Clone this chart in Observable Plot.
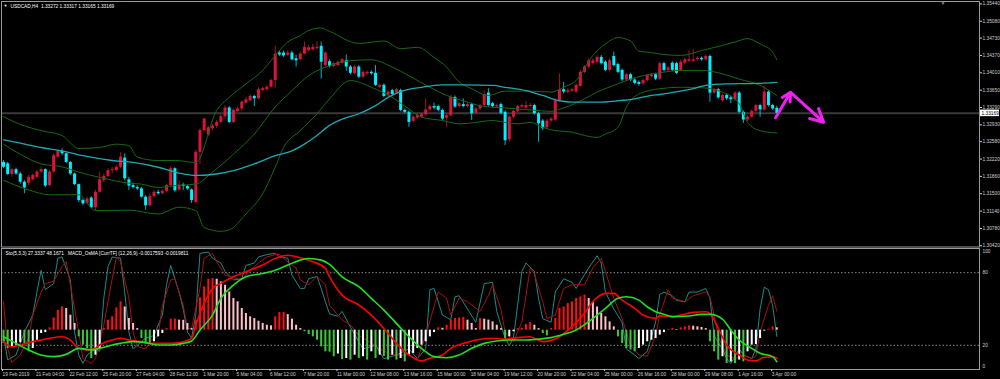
<!DOCTYPE html>
<html><head><meta charset="utf-8">
<script src="https://cdn.jsdelivr.net/npm/d3@7"></script>
<script src="https://cdn.jsdelivr.net/npm/@observablehq/plot@0.6"></script>
<style>
html,body{margin:0;padding:0;background:#000;}
#wrap{position:relative;width:1000px;height:379px;background:#000;overflow:hidden;}
#wrap svg{position:absolute;left:0;}
</style></head><body><div id="wrap"></div>
<script>
// ---------- DATA ----------
const symbolTitle = "USDCAD,H4  1.33272 1.33317 1.33165 1.33169";
const indicatorTitle = "Sto(5,3,3) 27.3337 48.1671   MACD_OsMA [CurrTF] (12,26,9) -0.0017593 -0.0019811";
const timeLabels = ["19 Feb 2019","21 Feb 04:00","22 Feb 12:00","25 Feb 20:00","27 Feb 04:00","28 Feb 12:00","1 Mar 20:00","5 Mar 04:00","6 Mar 12:00","7 Mar 20:00","11 Mar 00:00","12 Mar 08:00","13 Mar 16:00","15 Mar 00:00","18 Mar 04:00","19 Mar 12:00","20 Mar 20:00","22 Mar 04:00","25 Mar 00:00","26 Mar 16:00","28 Mar 00:00","29 Mar 08:00","1 Apr 16:00","3 Apr 00:00"];
const timeLabelBars = [0,8,16,24,32,40,48,56,64,72,80,88,96,104,112,120,128,136,144,152,160,168,176,184];
const priceTicks = [1.3042,1.3078,1.3114,1.3150,1.3186,1.3222,1.3258,1.3293,1.3329,1.3365,1.3401,1.3437,1.3473,1.3508,1.3544];
const oscTicks = [0,20,80,100];
const oscLevels = [20,80];

const open = [
1.3215,1.3212,1.3190,1.3200,1.3191,1.3174,1.3172,1.3179,1.3184,1.3195,
1.3200,1.3167,1.3195,1.3226,1.3238,1.3233,1.3215,1.3191,1.3169,1.3136,
1.3130,1.3141,1.3121,1.3153,1.3177,1.3186,1.3198,1.3198,1.3205,1.3224,
1.3179,1.3167,1.3163,1.3160,1.3143,1.3125,1.3144,1.3153,1.3150,1.3155,
1.3167,1.3202,1.3158,1.3168,1.3165,1.3158,1.3132,1.3236,1.3281,1.3272,
1.3285,1.3290,1.3298,1.3310,1.3328,1.3298,1.3321,1.3326,1.3338,1.3343,
1.3352,1.3347,1.3364,1.3366,1.3371,1.3385,1.3442,1.3442,1.3437,1.3442,
1.3430,1.3428,1.3440,1.3447,1.3449,1.3451,1.3456,1.3416,1.3424,1.3414,
1.3416,1.3421,1.3426,1.3413,1.3399,1.3413,1.3392,1.3399,1.3402,1.3400,
1.3371,1.3375,1.3354,1.3364,1.3359,1.3364,1.3323,1.3319,1.3300,1.3307,
1.3309,1.3314,1.3324,1.3331,1.3331,1.3323,1.3307,1.3312,1.3350,1.3331,
1.3335,1.3331,1.3335,1.3317,1.3326,1.3333,1.3359,1.3337,1.3330,1.3335,
1.3319,1.3262,1.3309,1.3321,1.3330,1.3328,1.3331,1.3333,1.3316,1.3301,
1.3287,1.3301,1.3303,1.3343,1.3366,1.3361,1.3363,1.3361,1.3373,1.3402,
1.3413,1.3420,1.3423,1.3433,1.3423,1.3406,1.3435,1.3418,1.3406,1.3386,
1.3397,1.3386,1.3381,1.3378,1.3385,1.3393,1.3397,1.3388,1.3420,1.3406,
1.3421,1.3420,1.3406,1.3421,1.3425,1.3425,1.3428,1.3431,1.3428,1.3435,
1.3359,1.3366,1.3343,1.3354,1.3349,1.3345,1.3359,1.3319,1.3303,1.3309,
1.3321,1.3333,1.3324,1.3361,1.3333,1.33272];
const close = [
1.3205,1.3190,1.3200,1.3191,1.3174,1.3162,1.3184,1.3188,1.3195,1.3200,
1.3166,1.3195,1.3229,1.3238,1.3233,1.3215,1.3191,1.3169,1.3136,1.3129,
1.3139,1.3121,1.3153,1.3179,1.3186,1.3198,1.3200,1.3205,1.3226,1.3181,
1.3166,1.3163,1.3160,1.3143,1.3125,1.3144,1.3153,1.3150,1.3155,1.3167,
1.3202,1.3156,1.3168,1.3165,1.3160,1.3136,1.3236,1.3281,1.3305,1.3287,
1.3290,1.3298,1.3310,1.3328,1.3298,1.3323,1.3326,1.3340,1.3345,1.3352,
1.3347,1.3366,1.3368,1.3371,1.3385,1.3440,1.3438,1.3436,1.3442,1.3428,
1.3426,1.3440,1.3454,1.3453,1.3454,1.3454,1.3423,1.3442,1.3414,1.3420,
1.3423,1.3428,1.3413,1.3400,1.3413,1.3392,1.3402,1.3402,1.3399,1.3375,
1.3375,1.3352,1.3361,1.3356,1.3366,1.3323,1.3319,1.3298,1.3309,1.3312,
1.3314,1.3324,1.3331,1.3328,1.3323,1.3305,1.3312,1.3350,1.3330,1.3337,
1.3331,1.3335,1.3316,1.3326,1.3333,1.3356,1.3333,1.3331,1.3333,1.3317,
1.3260,1.3309,1.3321,1.3331,1.3333,1.3333,1.3333,1.3316,1.3295,1.3285,
1.3301,1.3305,1.3343,1.3366,1.3361,1.3364,1.3366,1.3375,1.3402,1.3413,
1.3426,1.3426,1.3433,1.3420,1.3406,1.3426,1.3416,1.3402,1.3386,1.3397,
1.3386,1.3379,1.3377,1.3385,1.3395,1.3397,1.3388,1.3420,1.3406,1.3411,
1.3406,1.3400,1.3423,1.3428,1.3428,1.3428,1.3431,1.3428,1.3435,1.3359,
1.3366,1.3349,1.3354,1.3347,1.3345,1.3359,1.3319,1.3303,1.3309,1.3321,
1.3333,1.3324,1.3361,1.3333,1.3326,1.33169];
const high = [
1.3219,1.3215,1.3202,1.3203,1.3195,1.3177,1.3188,1.3191,1.3198,1.3205,
1.3202,1.3198,1.3233,1.3241,1.3243,1.3234,1.3217,1.3193,1.3170,1.3139,
1.3143,1.3144,1.3157,1.3195,1.3191,1.3202,1.3205,1.3208,1.3235,1.3233,
1.3184,1.3172,1.3167,1.3163,1.3146,1.3150,1.3157,1.3157,1.3158,1.3170,
1.3206,1.3204,1.3177,1.3172,1.3167,1.3160,1.3240,1.3285,1.3307,1.3290,
1.3294,1.3302,1.3314,1.3333,1.3331,1.3326,1.3330,1.3343,1.3350,1.3356,
1.3354,1.3370,1.3371,1.3375,1.3388,1.3456,1.3446,1.3446,1.3447,1.3446,
1.3437,1.3444,1.3465,1.3458,1.3460,1.3465,1.3465,1.3444,1.3428,1.3423,
1.3426,1.3431,1.3438,1.3416,1.3416,1.3416,1.3405,1.3405,1.3405,1.3416,
1.3378,1.3378,1.3364,1.3367,1.3369,1.3367,1.3326,1.3322,1.3312,1.3316,
1.3317,1.3347,1.3334,1.3338,1.3334,1.3326,1.3315,1.3354,1.3353,1.3340,
1.3347,1.3338,1.3338,1.3329,1.3336,1.3364,1.3368,1.3340,1.3336,1.3338,
1.3322,1.3312,1.3324,1.3334,1.3336,1.3342,1.3337,1.3336,1.3319,1.3304,
1.3304,1.3308,1.3347,1.3399,1.3381,1.3368,1.3369,1.3378,1.3406,1.3416,
1.3430,1.3430,1.3437,1.3437,1.3426,1.3430,1.3444,1.3421,1.3409,1.3400,
1.3400,1.3389,1.3384,1.3388,1.3398,1.3400,1.3400,1.3423,1.3423,1.3414,
1.3424,1.3423,1.3427,1.3431,1.3447,1.3449,1.3434,1.3434,1.3438,1.3438,
1.3369,1.3369,1.3357,1.3357,1.3352,1.3362,1.3362,1.3322,1.3312,1.3324,
1.3336,1.3336,1.3373,1.3364,1.3336,1.33317];
const low = [
1.3202,1.3188,1.3184,1.3188,1.3170,1.3150,1.3167,1.3176,1.3181,1.3193,
1.3163,1.3165,1.3193,1.3224,1.3229,1.3213,1.3188,1.3167,1.3132,1.3125,
1.3127,1.3119,1.3114,1.3151,1.3174,1.3183,1.3191,1.3196,1.3202,1.3177,
1.3157,1.3160,1.3157,1.3141,1.3116,1.3123,1.3141,1.3147,1.3148,1.3153,
1.3163,1.3153,1.3155,1.3157,1.3157,1.3130,1.3129,1.3211,1.3278,1.3268,
1.3281,1.3285,1.3295,1.3305,1.3296,1.3296,1.3319,1.3321,1.3337,1.3341,
1.3331,1.3345,1.3362,1.3363,1.3369,1.3369,1.3435,1.3433,1.3435,1.3426,
1.3413,1.3426,1.3438,1.3444,1.3446,1.3449,1.3388,1.3414,1.3411,1.3411,
1.3414,1.3419,1.3404,1.3397,1.3397,1.3389,1.3389,1.3396,1.3396,1.3373,
1.3369,1.3349,1.3352,1.3353,1.3356,1.3320,1.3316,1.3288,1.3297,1.3304,
1.3306,1.3311,1.3321,1.3324,1.3320,1.3302,1.3288,1.3310,1.3327,1.3328,
1.3328,1.3328,1.3302,1.3314,1.3323,1.3330,1.3330,1.3328,1.3327,1.3314,
1.3250,1.3257,1.3306,1.3318,1.3327,1.3325,1.3328,1.3313,1.3257,1.3281,
1.3284,1.3298,1.3300,1.3340,1.3357,1.3358,1.3360,1.3358,1.3371,1.3399,
1.3410,1.3417,1.3420,1.3417,1.3403,1.3403,1.3413,1.3399,1.3383,1.3383,
1.3383,1.3376,1.3373,1.3375,1.3382,1.3390,1.3385,1.3385,1.3403,1.3403,
1.3403,1.3397,1.3403,1.3418,1.3422,1.3422,1.3425,1.3425,1.3425,1.3340,
1.3356,1.3346,1.3340,1.3344,1.3337,1.3342,1.3316,1.3296,1.3300,1.3306,
1.3318,1.3309,1.3321,1.3330,1.3323,1.33165];

// Bollinger bands and moving average: [bar, price]
const bbUpper = [[0,1.3310],[4,1.3294],[9,1.3281],[14,1.3271],[18,1.3244],[23,1.3246],[27,1.3253],[30,1.3250],[32,1.3226],[37,1.3219],[41,1.3219],[46,1.3215],[51,1.3323],[54,1.3350],[58,1.3378],[62,1.3406],[64,1.3426],[66,1.3447],[68,1.3465],[71,1.3478],[73,1.3489],[76,1.3494],[78,1.3487],[85,1.3462],[91,1.3467],[95,1.3451],[99,1.3454],[103,1.3433],[106,1.3413],[109,1.3382],[112,1.3368],[116,1.3354],[120,1.3363],[126,1.3363],[131,1.3361],[134,1.3371],[137,1.3385],[141,1.3437],[144,1.3461],[147,1.3474],[150,1.3467],[152,1.3446],[155,1.3443],[157,1.3440],[162,1.3437],[167,1.3447],[172,1.3458],[175,1.3465],[178,1.3472],[181,1.3461],[184,1.3444],[185,1.3428]];
const bbMiddle = [[0,1.3253],[4,1.3232],[9,1.3212],[14,1.3206],[18,1.3195],[23,1.3184],[30,1.3172],[33,1.3170],[37,1.3163],[41,1.3167],[46,1.3170],[50,1.3195],[55,1.3232],[60,1.3274],[65,1.3330],[69,1.3364],[73,1.3395],[78,1.3416],[83,1.3426],[88,1.3428],[93,1.3413],[97,1.3395],[102,1.3371],[106,1.3354],[110,1.3343],[115,1.3331],[120,1.3328],[126,1.3324],[131,1.3321],[134,1.3328],[139,1.3347],[142,1.3361],[147,1.3378],[150,1.3388],[153,1.3395],[157,1.3401],[162,1.3406],[167,1.3406],[172,1.3399],[176,1.3388],[181,1.3375],[185,1.3354]];
const bbLower = [[0,1.3178],[6,1.3158],[11,1.3148],[18,1.3148],[22,1.3115],[30,1.3116],[37,1.3108],[42,1.3122],[46,1.3115],[48,1.3080],[52,1.3072],[54,1.3075],[58,1.3108],[62,1.3150],[65,1.3205],[67,1.3246],[71,1.3281],[75,1.3316],[78,1.3347],[83,1.3385],[88,1.3371],[93,1.3350],[97,1.3326],[100,1.3309],[105,1.3302],[109,1.3295],[113,1.3298],[117,1.3302],[120,1.3298],[123,1.3295],[126,1.3298],[129,1.3288],[132,1.3281],[136,1.3278],[139,1.3271],[142,1.3267],[144,1.3274],[147,1.3288],[149,1.3330],[152,1.3357],[157,1.3368],[162,1.3371],[167,1.3370],[172,1.3361],[176,1.3337],[178,1.3298],[181,1.3281],[185,1.3276]];
const maSlow = [[0,1.3262],[4,1.3255],[9,1.3246],[14,1.3239],[19,1.3229],[26,1.3219],[31,1.3215],[37,1.3205],[42,1.3193],[46,1.3188],[50,1.3190],[55,1.3198],[60,1.3212],[65,1.3229],[69,1.3239],[72,1.3253],[75,1.3271],[78,1.3292],[81,1.3305],[85,1.3316],[89,1.3333],[92,1.3350],[95,1.3362],[100,1.3371],[105,1.3376],[110,1.3376],[117,1.3375],[120,1.3371],[125,1.3364],[129,1.3354],[133,1.3343],[136,1.3340],[142,1.3340],[147,1.3343],[151,1.3347],[155,1.3354],[157,1.3356],[162,1.3363],[165,1.3368],[168,1.3375],[173,1.3378],[180,1.3379],[185,1.3381]];
// hand-drawn forecast arrows: [bar, price] start -> end
const arrows = [{b1:184.7,p1:1.33076,b2:188.3,p2:1.33607},{b1:188.5,p1:1.33590,b2:196.2,p2:1.32985}];

// Oscillator window
const stochK = [[0,28],[1,8],[3,12],[5,31],[7,45],[8,64],[9,82],[10,66],[12,71],[13,92],[14,93],[16,74],[17,31],[18,12],[19,5],[20,12],[22,17],[23,15],[24,59],[25,85],[26,93],[28,92],[29,64],[30,31],[31,17],[33,23],[34,26],[36,28],[38,45],[39,70],[40,86],[42,64],[43,50],[44,31],[45,26],[46,45],[47,96],[49,97],[50,92],[52,88],[53,81],[55,74],[57,75],[58,86],[60,88],[61,93],[63,95],[65,96],[66,93],[68,92],[69,78],[71,67],[72,67],[73,75],[75,77],[76,67],[77,56],[78,46],[80,44],[81,48],[83,35],[85,23],[86,17],[89,20],[91,9],[94,12],[97,17],[99,9],[101,17],[102,66],[103,67],[105,45],[107,41],[108,60],[109,61],[111,50],[113,39],[115,71],[117,72],[118,48],[120,26],[121,20],[122,26],[124,81],[125,88],[127,81],[128,59],[129,42],[131,39],[132,64],[134,75],[136,72],[137,67],[140,84],[142,94],[143,88],[144,64],[146,50],[148,39],[149,17],[151,12],[152,9],[154,15],[156,39],[157,62],[158,64],[160,61],[161,57],[163,56],[164,64],[166,64],[168,67],[169,59],[170,28],[172,17],[173,9],[174,5],[176,17],[177,12],[179,9],[180,17],[181,50],[182,68],[183,66],[184,53],[185,27.3337]];
const stochD = [[0,56],[1,17],[2,6],[4,12],[6,26],[7,45],[9,64],[10,71],[12,73],[14,85],[15,89],[16,70],[18,31],[19,9],[21,5],[22,9],[24,37],[26,75],[27,93],[28,89],[30,59],[31,31],[32,19],[34,17],[35,23],[37,28],[38,53],[40,74],[41,75],[43,53],[44,34],[45,34],[47,67],[48,92],[50,96],[51,89],[53,78],[54,77],[57,74],[59,82],[61,88],[63,93],[65,95],[66,95],[68,89],[70,84],[71,74],[73,70],[75,77],[77,70],[78,53],[81,41],[83,37],[85,28],[88,22],[90,17],[93,12],[97,12],[99,8],[101,28],[104,64],[106,59],[107,45],[109,59],[111,56],[114,48],[116,61],[117,70],[119,50],[120,31],[122,23],[124,39],[126,84],[127,79],[129,56],[130,42],[132,45],[134,67],[136,70],[139,70],[141,84],[143,92],[144,81],[146,59],[148,42],[150,20],[152,12],[154,11],[156,28],[157,45],[159,66],[160,59],[163,56],[165,61],[168,64],[169,60],[170,45],[171,27],[173,12],[175,9],[177,12],[179,9],[180,11],[181,31],[183,53],[184,61],[185,48.1671]];
const macdMain = [[0,-0.00072],[2,-0.00104],[4,-0.00093],[7,-0.00072],[9,-0.00062],[11,-0.00051],[14,-0.00041],[16,-0.00062],[18,-0.00114],[20,-0.00124],[22,-0.00114],[23,-0.00093],[26,-0.00062],[28,-0.00051],[30,-0.00062],[33,-0.00072],[35,-0.00083],[40,-0.00083],[42,-0.00078],[45,-0.00051],[46,0.00032],[48,0.00168],[50,0.00262],[52,0.00294],[55,0.00335],[58,0.00367],[62,0.00409],[65,0.00450],[68,0.00471],[71,0.00455],[74,0.00430],[77,0.00388],[78,0.00336],[81,0.00220],[85,0.00158],[88,0.00095],[91,0.00011],[94,-0.00083],[97,-0.00156],[100,-0.00193],[102,-0.00177],[105,-0.00156],[107,-0.00114],[110,-0.00083],[113,-0.00062],[117,-0.00051],[120,-0.00056],[123,-0.00047],[126,-0.00041],[129,-0.00072],[133,-0.00041],[136,0.00022],[139,0.00106],[141,0.00179],[144,0.00231],[146,0.00231],[148,0.00189],[151,0.00137],[153,0.00095],[156,0.00074],[157,0.00090],[160,0.00085],[162,0.00095],[165,0.00112],[168,0.00116],[169,0.00106],[171,0.00011],[173,-0.00093],[176,-0.00156],[178,-0.00187],[180,-0.00193],[182,-0.00170],[184,-0.00168],[185,-0.0017593]];
const macdSignal = [[0,-0.00041],[3,-0.00083],[6,-0.00124],[9,-0.00156],[12,-0.00166],[15,-0.00152],[18,-0.00114],[21,-0.00124],[23,-0.00114],[26,-0.00093],[28,-0.00083],[31,-0.00072],[34,-0.00078],[37,-0.00093],[40,-0.00093],[43,-0.00083],[45,-0.00068],[47,0.00001],[50,0.00095],[52,0.00200],[55,0.00283],[58,0.00336],[62,0.00356],[65,0.00377],[68,0.00409],[71,0.00440],[73,0.00450],[76,0.00440],[78,0.00413],[81,0.00335],[85,0.00273],[88,0.00200],[91,0.00126],[94,0.00043],[97,-0.00041],[101,-0.00135],[103,-0.00166],[106,-0.00173],[109,-0.00156],[112,-0.00114],[115,-0.00083],[118,-0.00068],[121,-0.00062],[125,-0.00062],[128,-0.00056],[131,-0.00047],[134,-0.00026],[137,0.00001],[140,0.00053],[144,0.00137],[147,0.00200],[149,0.00210],[152,0.00189],[154,0.00147],[156,0.00116],[158,0.00100],[160,0.00085],[164,0.00089],[167,0.00099],[169,0.00099],[172,0.00070],[174,0.00001],[176,-0.00062],[179,-0.00114],[181,-0.00145],[184,-0.00166],[185,-0.0019811]];
const osma = [
-0.00084,-0.00115,-0.00105,-0.00094,-0.00079,-0.00084,-0.00136,-0.00115,-0.00063,-0.00021,
-0.00015,0.00015,0.00077,0.00125,0.00146,0.00136,0.00094,0.00042,-0.00042,-0.00094,
-0.00115,-0.00178,-0.00157,-0.00115,0.00010,0.00063,0.00084,0.00140,0.00178,0.00146,
0.00073,0.00042,0.00010,-0.00052,-0.00084,-0.00086,-0.00073,-0.00042,-0.00021,0.00010,
0.00069,0.00070,0.00063,0.00062,0.00042,0.00010,0.00063,0.00203,0.00272,0.00320,
0.00324,0.00320,0.00303,0.00282,0.00240,0.00199,0.00178,0.00136,0.00105,0.00084,
0.00073,0.00056,0.00042,0.00031,0.00027,0.00084,0.00111,0.00112,0.00098,0.00069,
0.00031,0.00010,-0.00010,-0.00027,-0.00042,-0.00063,-0.00105,-0.00136,-0.00138,-0.00167,
-0.00150,-0.00185,-0.00178,-0.00188,-0.00157,-0.00178,-0.00167,-0.00188,-0.00136,-0.00178,
-0.00157,-0.00165,-0.00188,-0.00157,-0.00188,-0.00178,-0.00199,-0.00157,-0.00146,-0.00115,
-0.00094,-0.00073,-0.00042,-0.00015,0.00015,0.00012,0.00031,0.00063,0.00073,0.00077,
0.00080,0.00063,0.00042,0.00010,0.00073,0.00069,0.00063,0.00052,0.00031,0.00010,
-0.00052,-0.00042,-0.00010,0.00010,0.00012,0.00035,0.00048,0.00031,0.00010,-0.00021,
-0.00036,0.00010,0.00073,0.00136,0.00146,0.00167,0.00178,0.00199,0.00209,0.00220,
0.00199,0.00178,0.00146,0.00105,0.00084,0.00052,0.00021,-0.00042,-0.00084,-0.00115,
-0.00125,-0.00136,-0.00115,-0.00094,-0.00073,-0.00063,-0.00052,-0.00031,-0.00015,0.00004,
0.00010,0.00004,0.00015,0.00021,0.00027,0.00025,0.00021,0.00017,0.00010,-0.00073,
-0.00136,-0.00188,-0.00167,-0.00209,-0.00200,-0.00210,-0.00188,-0.00199,-0.00136,-0.00094,
-0.00090,-0.00052,-0.00006,0.00006,0.00021,0.00015];

// ---------- CHART ----------
const FONT = "'Liberation Sans', Arial, sans-serif";
const FS = "4.8px";
const TXT = "#cfcfcf";
const FRAME = "#9a9a9a";
const UP = "#dc143c", DN = "#00f0ff";
const xDomain = [-0.48, 233.49];
const lastClose = close[close.length - 1];
const bars = open.map((o, i) => ({i, open: o, high: high[i], low: low[i], close: close[i], col: close[i] > o ? UP : DN}));
const hist = osma.map((v, i) => {
  const prev = i > 0 ? osma[i - 1] : v;
  const col = v >= 0 ? (v >= prev ? "#ff1010" : "#ffc0cb") : (v <= prev ? "#3cc83c" : "#ffffff");
  return {i, v, col};
});
const labelByBar = new Map(timeLabelBars.map((b, k) => [b, timeLabels[k]]));
const fmt5 = d3.format(".5f");
const baseStyle = {background: "transparent", color: TXT, fontFamily: FONT, fontSize: FS};
const px = d => d[0], py = d => d[1];

const priceBox = (index, scales, values, dimensions) => {
  const y = scales.y(lastClose);
  const x = dimensions.width - dimensions.marginRight;
  const g = d3.create("svg:g");
  g.append("rect").attr("x", x + 1).attr("y", y - 3.3).attr("width", 19).attr("height", 6.6).attr("fill", "#ffffff");
  g.append("text").attr("x", x + 2.5).attr("y", y).attr("dy", "0.35em").attr("fill", "#000")
    .attr("text-anchor", "start").attr("font-size", FS).attr("font-family", FONT).text(fmt5(lastClose));
  return g.node();
};

const upper = Plot.plot({
  width: 1000, height: 248, marginLeft: 1, marginRight: 21, marginTop: 1, marginBottom: 1.5,
  style: baseStyle,
  x: {domain: xDomain, axis: null},
  y: {domain: [1.30395, 1.3549], axis: null},
  color: {type: "identity"},
  marks: [
    Plot.ruleY([lastClose], {stroke: "#3a3a3a", strokeWidth: 2}),
    Plot.ruleX(bars, {x: "i", y1: "low", y2: "high", stroke: "col", strokeWidth: 1, strokeOpacity: 0.75}),
    Plot.ruleX(bars, {x: "i", y1: "open", y2: "close", stroke: "col", strokeWidth: 3}),
    Plot.line(bbUpper, {x: px, y: py, stroke: "#156a15", strokeWidth: 1, curve: "monotone-x"}),
    Plot.line(bbMiddle, {x: px, y: py, stroke: "#156a15", strokeWidth: 1, curve: "monotone-x"}),
    Plot.line(bbLower, {x: px, y: py, stroke: "#156a15", strokeWidth: 1, curve: "monotone-x"}),
    Plot.line(maSlow, {x: px, y: py, stroke: "#1fa8b2", strokeWidth: 1.3, curve: "monotone-x"}),
    Plot.arrow(arrows, {x1: "b1", y1: "p1", x2: "b2", y2: "p2", stroke: "#f020f0", strokeWidth: 3, headLength: 9, headAngle: 55}),
    Plot.frame({stroke: FRAME}),
    Plot.axisY({anchor: "right", ticks: priceTicks, tickFormat: fmt5, tickSize: 2, tickPadding: 1, fill: TXT}),
    priceBox,
    Plot.text(["▼"], {frameAnchor: "top-left", dx: 2, dy: 2.5, lineAnchor: "top", fill: "#ffffff", fontSize: 4}),
    Plot.text([symbolTitle], {frameAnchor: "top-left", dx: 9, dy: 3, lineAnchor: "top", textAnchor: "start", fill: "#ffffff"}),
    Plot.text(["▼"], {frameAnchor: "top-right", dx: -34, dy: 0, lineAnchor: "top", fill: "#8a8a8a", fontSize: 5})
  ]
});
upper.style.top = "0px";

const osc = Plot.plot({
  width: 1000, height: 132, marginLeft: 1, marginRight: 21, marginTop: 1, marginBottom: 10,
  style: baseStyle,
  x: {domain: xDomain},
  y: {domain: [0, 100], axis: null},
  marks: [
    Plot.ruleY(oscLevels, {stroke: "#8a8a8a", strokeDasharray: "1.5,2", strokeWidth: 1}),
    Plot.line(stochK, {x: px, y: py, stroke: "#1d8a8a", strokeWidth: 1}),
    Plot.line(stochD, {x: px, y: py, stroke: "#a81010", strokeWidth: 1}),
    Plot.frame({stroke: FRAME}),
    Plot.axisY({anchor: "right", ticks: oscTicks.filter(t => t > 0 && t < 100), tickSize: 0, tickPadding: 3, fill: TXT}),
    Plot.axisY({anchor: "right", ticks: oscTicks.filter(t => t === 100), tickSize: 0, tickPadding: 3, dy: 3, fill: TXT}),
    Plot.axisY({anchor: "right", ticks: oscTicks.filter(t => t === 0), tickSize: 0, tickPadding: 3, dy: -3, fill: TXT}),
    Plot.axisX({anchor: "bottom", ticks: timeLabelBars, tickFormat: d => labelByBar.get(d), tickSize: 2, tickPadding: 1, textAnchor: "start", dx: -1, fill: TXT})
  ]
});
osc.style.top = "247px";

const macd = Plot.plot({
  width: 1000, height: 132, marginLeft: 1, marginRight: 21, marginTop: 1, marginBottom: 10,
  style: baseStyle,
  x: {domain: xDomain, axis: null},
  y: {domain: [-0.00247, 0.00513], axis: null},
  color: {type: "identity"},
  marks: [
    Plot.ruleX(hist, {x: "i", y1: 0, y2: "v", stroke: "col", strokeWidth: 2}),
    Plot.line(macdMain, {x: px, y: py, stroke: "#ff0000", strokeWidth: 1.6, curve: "monotone-x"}),
    Plot.line(macdSignal, {x: px, y: py, stroke: "#22e022", strokeWidth: 1.6, curve: "monotone-x"}),
    Plot.text([indicatorTitle], {frameAnchor: "top-left", dx: 4, dy: 3.5, lineAnchor: "top", textAnchor: "start", fill: "#ffffff"})
  ]
});
macd.style.top = "247px";

const wrap = document.getElementById("wrap");
wrap.append(upper, osc, macd);
</script></body></html>
